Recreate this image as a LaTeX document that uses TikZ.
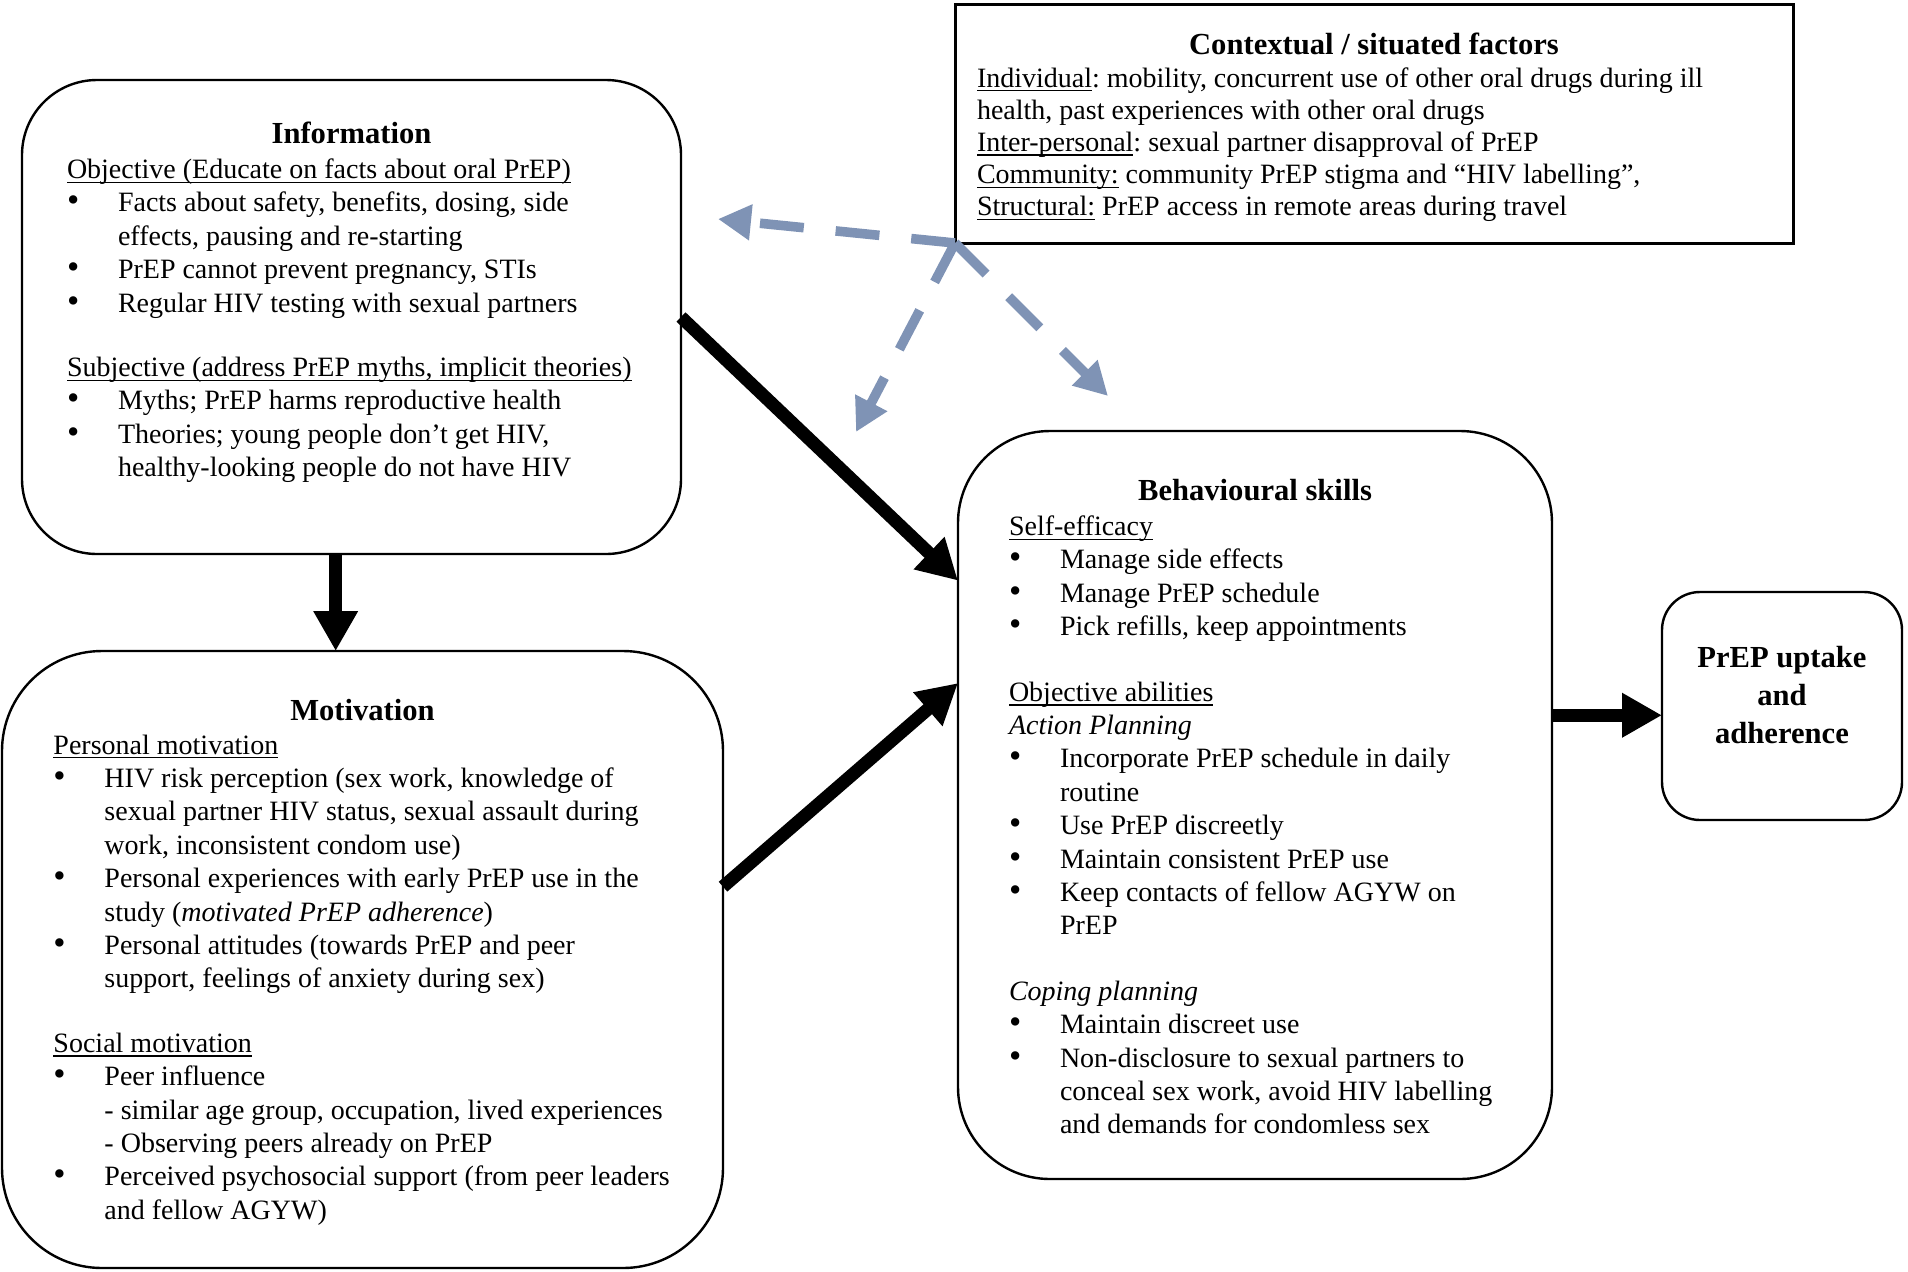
\documentclass[tikz,border=0pt]{standalone}
\usepackage{fontspec}
\setmainfont{Liberation Serif}
\usepackage{graphicx}
\usetikzlibrary{arrows.meta,calc}
\definecolor{dashblue}{RGB}{127,147,181}
\frenchspacing
\newcommand{\myul}[1]{\leavevmode\setbox0\hbox{#1}\rlap{\rule[-2.2pt]{\wd0}{0.7pt}}\box0\relax}
\newcommand{\bl}{\leavevmode\makebox[25.5pt][l]{\scalebox{1.25}{\textbullet}}}
\newcommand{\cl}{\leavevmode\hspace*{25.5pt}}
\newcommand{\bodyfont}{\fontsize{14pt}{16.7pt}\selectfont\frenchspacing}
\newcommand{\titlefont}{\fontsize{15.3pt}{18pt}\selectfont\bfseries}
\tikzset{
  box/.style={draw, line width=1.2pt, inner sep=0pt, outer sep=0pt},
  txt/.style={inner sep=0pt, outer sep=0pt},
  bigarrow/.style={line width=6.5pt, -{Triangle[length=20pt,width=21pt]}},
  dasharrow/.style={draw=dashblue, line width=4.8pt, dash pattern=on 22pt off 16pt,
    -{Triangle[length=16.5pt,width=17pt]}},
}
\begin{document}
\begin{tikzpicture}[x=0.5pt,y=-0.5pt]
\useasboundingbox (0,0) rectangle (1908,1271);
% boxes
\node[box, rounded corners=37.5pt, minimum width=329.5pt, minimum height=237pt] (info) at (351.5,317) {};
\node[box, rounded corners=50pt, minimum width=360.5pt, minimum height=308.5pt] (motiv) at (362.5,959.5) {};
\node[box, rounded corners=46pt, minimum width=297pt, minimum height=374pt] (behav) at (1255,805) {};
\node[box, rounded corners=19pt, minimum width=120pt, minimum height=114pt] (prep) at (1782,706) {};
\node[box, line width=1.5pt, minimum width=419pt, minimum height=119.5pt] (ctx) at (1374,123.5) {};

% titles
\node[txt, anchor=base] (infotitle) at (351.5,143.5) {\titlefont Information};
\node[txt, anchor=base] (motivtitle) at (362.5,720) {\titlefont Motivation};
\node[txt, anchor=base] (behavtitle) at (1255,500.5) {\titlefont Behavioural skills};
\node[txt, anchor=base] (ctxtitle) at (1374,54) {\titlefont Contextual / situated factors};

% Information body
\node[txt, anchor=base west] (infobody) at (67,178.5) {\parbox[t]{320pt}{\bodyfont\raggedright\parindent=0pt
\myul{Objective (Educate on facts about oral PrEP)}\\
\bl Facts about safety, benefits, dosing, side\\
\cl effects, pausing and re-starting\\
\bl PrEP cannot prevent pregnancy, STIs\\
\bl Regular HIV testing with sexual partners\\[15.5pt]
\myul{Subjective (address PrEP myths, implicit theories)}\\
\bl Myths; PrEP harms reproductive health\\
\bl Theories; young people don’t get HIV,\\
\cl healthy-looking people do not have HIV}};

% Motivation body
\node[txt, anchor=base west] (motivbody) at (53.5,754) {\parbox[t]{340pt}{\bodyfont\raggedright\parindent=0pt
\myul{Personal motivation}\\
\bl HIV risk perception (sex work, knowledge of\\
\cl sexual partner HIV status, sexual assault during\\
\cl work, inconsistent condom use)\\
\bl Personal experiences with early PrEP use in the\\
\cl study (\textit{motivated PrEP adherence})\\
\bl Personal attitudes (towards PrEP and peer\\
\cl support, feelings of anxiety during sex)\\[15.5pt]
\myul{Social motivation}\\
\bl Peer influence\\
\cl - similar age group, occupation, lived experiences\\
\cl - Observing peers already on PrEP\\
\bl Perceived psychosocial support (from peer leaders\\
\cl and fellow AGYW)}};

% Behavioural skills body
\node[txt, anchor=base west] (behavbody) at (1009,535.5) {\parbox[t]{270pt}{\bodyfont\raggedright\parindent=0pt
\myul{Self-efficacy}\\
\bl Manage side effects\\
\bl Manage PrEP schedule\\
\bl Pick refills, keep appointments\\[16pt]
\myul{Objective abilities}\\
\textit{Action Planning}\\
\bl Incorporate PrEP schedule in daily\\
\cl routine\\
\bl Use PrEP discreetly\\
\bl Maintain consistent PrEP use\\
\bl Keep contacts of fellow AGYW on\\
\cl PrEP\\[16pt]
\textit{Coping planning}\\
\bl Maintain discreet use\\
\bl Non-disclosure to sexual partners to\\
\cl conceal sex work, avoid HIV labelling\\
\cl and demands for condomless sex}};

% Context body
\node[txt, anchor=base west] (ctxbody) at (977,87) {\parbox[t]{400pt}{\fontsize{14pt}{16.1pt}\selectfont\frenchspacing\raggedright\parindent=0pt
\myul{Individual}: mobility, concurrent use of other oral drugs during ill\\
health, past experiences with other oral drugs\\
\myul{Inter-personal}: sexual partner disapproval of PrEP\\
\myul{Community:} community PrEP stigma and “HIV labelling”,\\
\myul{Structural:} PrEP access in remote areas during travel}};

% PrEP text
\node[txt, anchor=base] (preptext) at (1782,667) {\parbox[t]{110pt}{\fontsize{15.3pt}{19pt}\selectfont\bfseries\centering
PrEP uptake\\and\\adherence}};

% black arrows
\coordinate (infoout) at ($(info.south west)!0.476!(info.south east)$);
\draw[bigarrow] (info.east) -- ($(behav.north west)!0.2!(behav.south west)$);
\draw[bigarrow] (infoout) -- (infoout |- motiv.north);
\draw[bigarrow] ($(motiv.north east)!0.382!(motiv.south east)$) -- ($(behav.north west)!0.337!(behav.south west)$);
\coordinate (behavout) at ($(behav.north east)!0.38!(behav.south east)$);
\draw[bigarrow] (behavout) -- (behavout -| prep.west);

% dashed arrows
\coordinate (dleft) at (718,219);
\coordinate (ddown) at (856,432);
\coordinate (dright) at (1108,396);
\draw[dasharrow] (ctx.south west) -- (dleft);
\draw[dasharrow] (ctx.south west) -- (ddown);
\draw[dasharrow] (ctx.south west) -- (dright);
\end{tikzpicture}
\end{document}
